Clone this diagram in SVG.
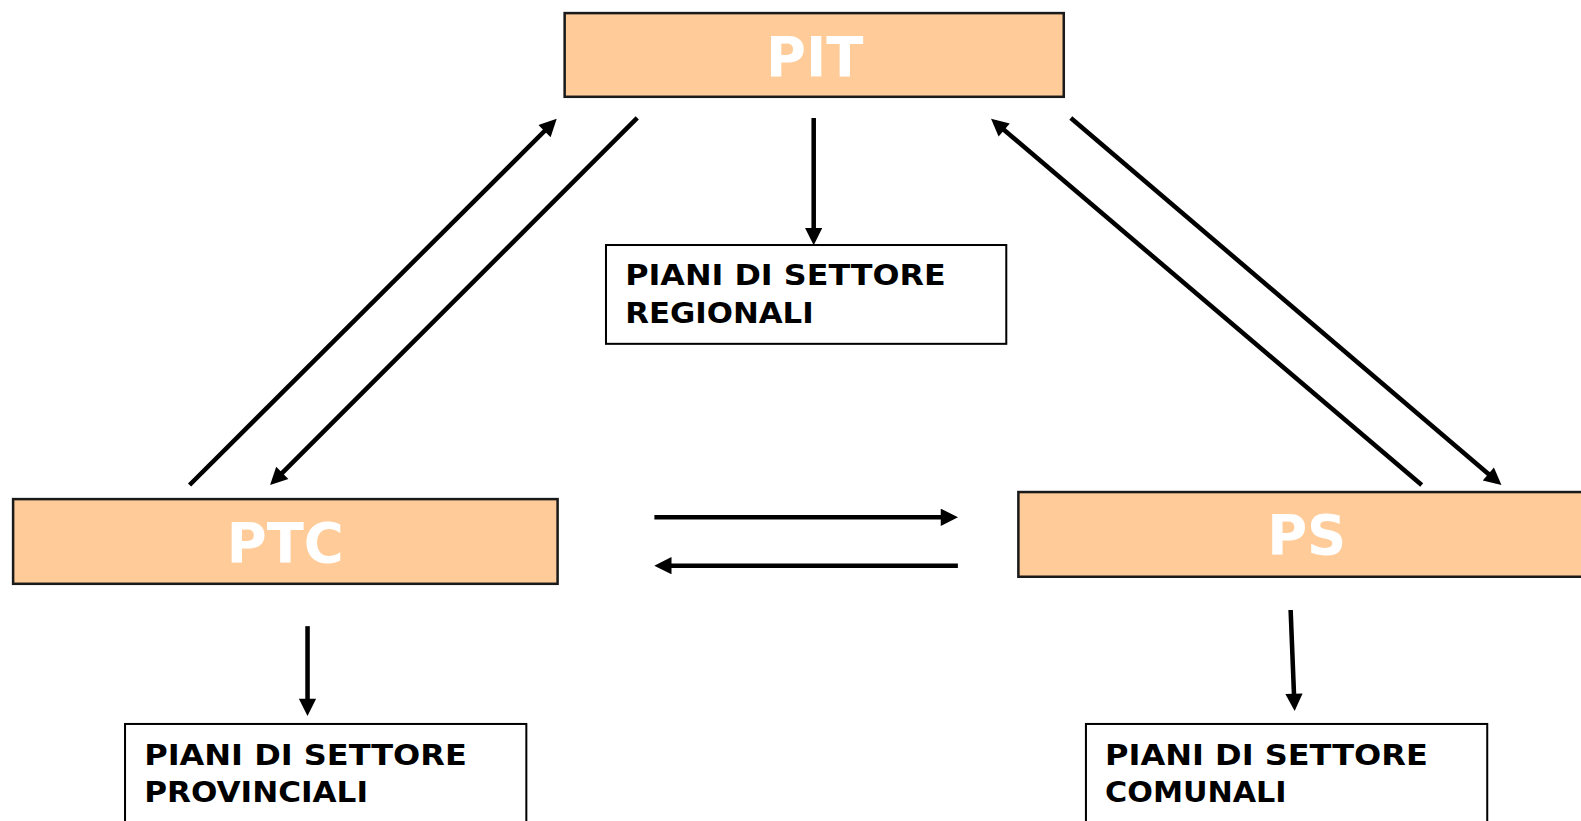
<svg xmlns="http://www.w3.org/2000/svg" width="1581" height="821" viewBox="0 0 1581 821">
<style>
.main rect{fill:#FFCC99;stroke:#1a1a1a;stroke-width:2.5}
.main text{font-family:"DejaVu Sans","Liberation Sans",sans-serif;font-weight:bold;font-size:54px;fill:#fff;text-anchor:middle}
.sub rect{fill:#fff;stroke:#000;stroke-width:2}
.sub text{font-family:"Comic Sans MS","DejaVu Sans","Liberation Sans",sans-serif;font-weight:bold;font-size:28px;fill:#000}
.conn line{stroke:#000;stroke-width:4.5;marker-end:url(#ah)}
</style>
<defs>
<marker id="ah" viewBox="0 0 10 10" refX="7" refY="5" markerWidth="4.6" markerHeight="3.8" orient="auto" markerUnits="strokeWidth">
<path d="M0,0 L10,5 L0,10 z" fill="#000"/>
</marker>
</defs>
<rect width="1581" height="821" fill="#fff"/>
<g transform="scale(1.0083)">
<g id="PIT" class="main"><rect x="560" y="13" width="495" height="83"/><text x="808" y="75">PIT</text></g>
<g id="PTC" class="main"><rect x="13" y="495" width="540" height="84"/><text x="283" y="557">PTC</text></g>
<g id="PS" class="main"><rect x="1010" y="488" width="590" height="84"/><text x="1296" y="549">PS</text></g>
<g id="regionali" class="sub"><rect x="601" y="243" width="397" height="98"/><text x="620" y="283" textLength="318" lengthAdjust="spacingAndGlyphs">PIANI DI SETTORE</text><text x="620" y="320" textLength="187" lengthAdjust="spacingAndGlyphs">REGIONALI</text></g>
<g id="provinciali" class="sub"><rect x="124" y="718" width="398" height="120"/><text x="143" y="759" textLength="320" lengthAdjust="spacingAndGlyphs">PIANI DI SETTORE</text><text x="143" y="795" textLength="222" lengthAdjust="spacingAndGlyphs">PROVINCIALI</text></g>
<g id="comunali" class="sub"><rect x="1077" y="718" width="398" height="120"/><text x="1096" y="759" textLength="320" lengthAdjust="spacingAndGlyphs">PIANI DI SETTORE</text><text x="1096" y="795" textLength="180" lengthAdjust="spacingAndGlyphs">COMUNALI</text></g>
<g id="connectors" class="conn">
<line x1="188" y1="481" x2="548.5" y2="121.5"/>
<line x1="632" y1="117" x2="271.5" y2="477.5"/>
<line x1="807" y1="117" x2="807" y2="238"/>
<line x1="1410" y1="481" x2="986.8" y2="121.2"/>
<line x1="1062" y1="117" x2="1485.2" y2="477.8"/>
<line x1="649" y1="513" x2="945" y2="513"/>
<line x1="950" y1="561" x2="654" y2="561"/>
<line x1="305" y1="621" x2="305" y2="705"/>
<line x1="1280" y1="605" x2="1283.8" y2="700"/>
</g>
</g>
</svg>
